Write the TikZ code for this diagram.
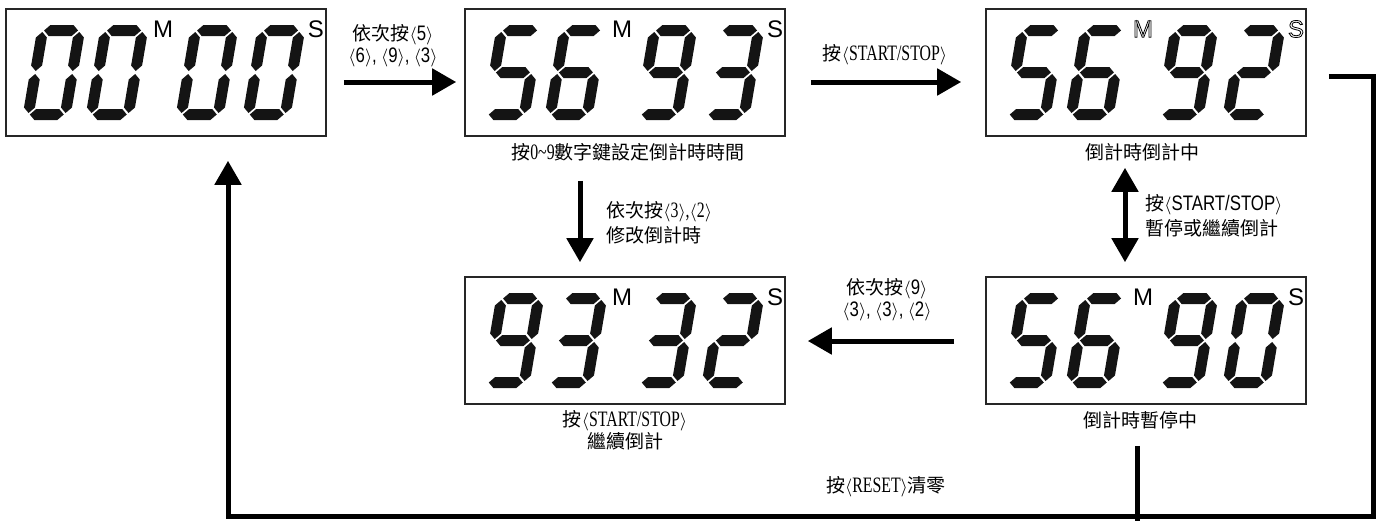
\documentclass[tikz,border=0pt]{standalone}
\usepackage{fontspec}
\setmainfont{Liberation Sans}
\newfontfamily\cjk{Noto Sans CJK TC}
\newfontfamily\serifn[FakeStretch=0.72]{Liberation Serif}
\newfontfamily\sansn[FakeStretch=0.8]{Liberation Sans}
\usetikzlibrary{arrows.meta}
\newcommand\lb{\ensuremath{\langle}}
\newcommand\rb{\ensuremath{\rangle}}
\newcommand\ls[1]{{\sansn\fontsize{10.5}{11}\selectfont #1}}
\newcommand\lr[1]{{\serifn\fontsize{11}{11}\selectfont #1}}
\newcommand\hollowtxt[1]{\special{pdf:code 1 Tr 0.4 w}#1\special{pdf:code 0 Tr}}
\newcommand\solidtxt[1]{#1}
% seven segments (local pixel units, y down)
\def\SegA{(7,5.5)--(12.5,0)--(35.5,0)--(41,5.5)--(35.5,11)--(12.5,11)--cycle}
\def\SegG{(7,47.5)--(12.5,42)--(35.5,42)--(41,47.5)--(35.5,53)--(12.5,53)--cycle}
\def\SegD{(7,89.5)--(12.5,84)--(35.5,84)--(41,89.5)--(35.5,95)--(12.5,95)--cycle}
\def\SegF{(5.5,7)--(11,12.5)--(11,40.5)--(5.5,46)--(0,40.5)--(0,12.5)--cycle}
\def\SegB{(42.5,7)--(48,12.5)--(48,40.5)--(42.5,46)--(37,40.5)--(37,12.5)--cycle}
\def\SegE{(5.5,49)--(11,54.5)--(11,82.5)--(5.5,88)--(0,82.5)--(0,54.5)--cycle}
\def\SegC{(42.5,49)--(48,54.5)--(48,82.5)--(42.5,88)--(37,82.5)--(37,54.5)--cycle}
\def\DZero{A,B,C,D,E,F}
\def\DTwo{A,B,G,E,D}
\def\DThree{A,B,G,C,D}
\def\DFive{A,F,G,C,D}
\def\DSix{A,F,G,E,C,D}
\def\DNine{A,B,C,D,F,G}
\newcommand\sevdigit[3]{%
  \begin{scope}[shift={(#1,#2)},xslant=0.17]
    \foreach \s in #3 {\expandafter\fill\csname Seg\s\endcsname;}
  \end{scope}}
% #1 name, #2 left, #3 top, #4-#7 digits, #8 text style macro
\newcommand\display[8]{%
  \begin{scope}[fill=black!92]
  \sevdigit{#2+32}{#3+16}{#4}
  \sevdigit{#2+95}{#3+16}{#5}
  \sevdigit{#2+185}{#3+16}{#6}
  \sevdigit{#2+252}{#3+16}{#7}
  \end{scope}
  \node[msym] (#1m) at (#2+157,#3+20) {#8{M}};
  \node[msym] (#1s) at (#2+310,#3+20) {#8{S}};}
\begin{document}
\begin{tikzpicture}[x=0.5pt,y=-0.5pt,
  dispbox/.style={draw=black!85, line width=0.8pt, minimum width=160pt, minimum height=63.5pt, inner sep=0},
  msym/.style={font=\fontsize{12}{13}\selectfont, inner sep=0},
  lbl/.style={font=\cjk\fontsize{9.5}{11}\selectfont, inner sep=0, align=center},
  arr/.style={line width=2.5pt, -{Triangle[length=12pt,width=13pt]}},
  darr/.style={line width=2.5pt, {Triangle[length=12pt,width=13pt]}-{Triangle[length=12pt,width=13pt]}},
  loopline/.style={line width=2.5pt}]
\useasboundingbox (0,0) rectangle (1383,520);
% display boxes
\node[dispbox] (b1) at (166,72.5) {};
\node[dispbox] (b2) at (625,72.5) {};
\node[dispbox] (b3) at (1146,72.5) {};
\node[dispbox] (b4) at (625,340.5) {};
\node[dispbox] (b5) at (1146,340.5) {};
\display{b1}{6}{9}{\DZero}{\DZero}{\DZero}{\DZero}{\solidtxt}
\display{b2}{465}{9}{\DFive}{\DSix}{\DNine}{\DThree}{\solidtxt}
\display{b3}{986}{9}{\DFive}{\DSix}{\DNine}{\DTwo}{\hollowtxt}
\display{b4}{465}{277}{\DNine}{\DThree}{\DThree}{\DTwo}{\solidtxt}
\display{b5}{986}{277}{\DFive}{\DSix}{\DNine}{\DZero}{\solidtxt}
% captions
\node[lbl] (c2) at (628,152) {按\lr{0\textasciitilde 9}數字鍵設定倒計時時間};
\node[lbl] (c3) at (1142,152) {倒計時倒計中};
\node[lbl] (c4) at (625,430.5) {按\lb\lr{START/STOP}\rb\\繼續倒計};
\node[lbl] (c5) at (1140,420) {倒計時暫停中};
% arrow labels
\node[lbl] (l1) at (393,46) {依次按\lb\ls{5}\rb\\\lb\ls{6}\rb\ls{,} \lb\ls{9}\rb\ls{,} \lb\ls{3}\rb};
\node[lbl] (l2) at (885,55) {按\lb\lr{START/STOP}\rb};
\node[lbl, align=left, anchor=west] (l3) at (606,222.5) {依次按\lb\lr{3}\rb\lr{,}\lb\lr{2}\rb\\[1.5pt]修改倒計時};
\node[lbl, align=left, anchor=west] (l4) at (1145,215.5) {按\lb\ls{START/STOP}\rb\\[1.5pt]暫停或繼續倒計};
\node[lbl] (l5) at (887,299.5) {依次按\lb\ls{9}\rb\\\lb\ls{3}\rb\ls{,} \lb\ls{3}\rb\ls{,} \lb\ls{2}\rb};
\node[lbl] (lr) at (886,487) {按\lb\lr{RESET}\rb 清零};
% connectors
\draw[arr] ([shift={(17,9.5)}]b1.east) -- ([shift={(-8,9.5)}]b2.west);
\draw[arr] ([shift={(25,9.5)}]b2.east) -- ([shift={(-24,9.5)}]b3.west);
\draw[arr] ([shift={(-45,44)}]b2.south) -- ([shift={(-45,-14)}]b4.north);
\draw[darr] ([shift={(-21,31)}]b3.south) -- ([shift={(-21,-14)}]b5.north);
\draw[arr] ([shift={(-31,0.5)}]b5.west) -- ([shift={(22,0.5)}]b4.east);
\coordinate (cr) at (1373,516);
\draw[loopline, arr] ([shift={(22,3.5)}]b3.east) -| (cr) -| ([shift={(62,24)}]b1.south);
\draw[loopline] ([shift={(-9,41)}]b5.south) -- ([shift={(-9,41)}]b5.south |- cr);
\end{tikzpicture}
\end{document}
